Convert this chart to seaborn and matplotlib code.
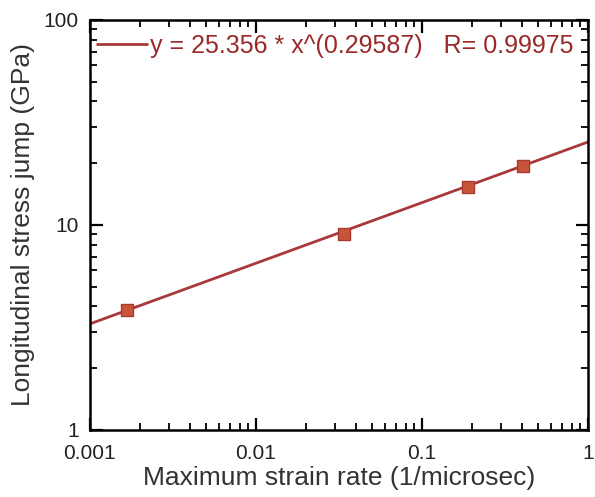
import matplotlib
matplotlib.use("Agg")
import matplotlib.pyplot as plt
import seaborn as sns
import pandas as pd
from matplotlib.ticker import LogLocator, FixedLocator, FixedFormatter, NullFormatter

sns.set_theme(style="ticks")
plt.rcParams['font.family'] = ['Liberation Sans', 'DejaVu Sans']

# data
strain_rate = [0.00167, 0.0339, 0.189, 0.406]
stress_jump = [3.85, 9.05, 15.3, 19.4]
fit_x = [0.001, 1.0]
fit_y = [3.29, 25.356]
legend_text = "y = 25.356 * x^(0.29587)   R= 0.99975"
xticks = [0.001, 0.01, 0.1, 1]
xticklabels = ["0.001", "0.01", "0.1", "1"]
yticks = [1, 10, 100]
yticklabels = ["1", "10", "100"]

pts = pd.DataFrame({"x": strain_rate, "y": stress_jump})
fit = pd.DataFrame({"x": fit_x, "y": fit_y})

fig = plt.figure(figsize=(5.95, 4.97), dpi=100)
ax = fig.add_axes([0.151, 0.135, 0.837, 0.825])

line_color = "#a8383a"
sns.lineplot(data=fit, x="x", y="y", ax=ax, color=line_color, lw=2.0, label=legend_text)
sns.scatterplot(data=pts, x="x", y="y", ax=ax, marker="s", s=70, color="#c8553a",
                edgecolor="#a83a30", linewidth=1.0, zorder=3, legend=False)

ax.set_xscale("log")
ax.set_yscale("log")
ax.set_xlim(0.001, 1)
ax.set_ylim(1, 100)
ax.xaxis.set_major_locator(FixedLocator(xticks))
ax.xaxis.set_major_formatter(FixedFormatter(xticklabels))
ax.yaxis.set_major_locator(FixedLocator(yticks))
ax.yaxis.set_major_formatter(FixedFormatter(yticklabels))
ax.xaxis.set_minor_locator(LogLocator(base=10, subs=range(2, 10)))
ax.yaxis.set_minor_locator(LogLocator(base=10, subs=range(2, 10)))
ax.xaxis.set_minor_formatter(NullFormatter())
ax.yaxis.set_minor_formatter(NullFormatter())

ax.tick_params(which="both", direction="in", top=True, right=True, color="black")
ax.tick_params(which="major", length=9, width=1.6, labelsize=15, labelcolor="#222222")
ax.tick_params(axis="x", which="major", pad=10)
ax.tick_params(axis="y", which="major", pad=8)
ax.tick_params(which="minor", length=5, width=1.3)
for sp in ax.spines.values():
    sp.set_linewidth(1.8)
    sp.set_color("black")

ax.set_xlabel("Maximum strain rate (1/microsec)", fontsize=19, color="#333333", labelpad=2)
ax.set_ylabel("Longitudinal stress jump (GPa)", fontsize=19, color="#333333", labelpad=6)

leg = ax.legend(loc="upper left", bbox_to_anchor=(0.0, 0.985), frameon=False, fontsize=18,
                handlelength=2.0, handletextpad=0.1, borderaxespad=0.0, borderpad=0.3)
for t in leg.get_texts():
    t.set_color("#9a2a2a")

fig.savefig("out.png", dpi=100)
